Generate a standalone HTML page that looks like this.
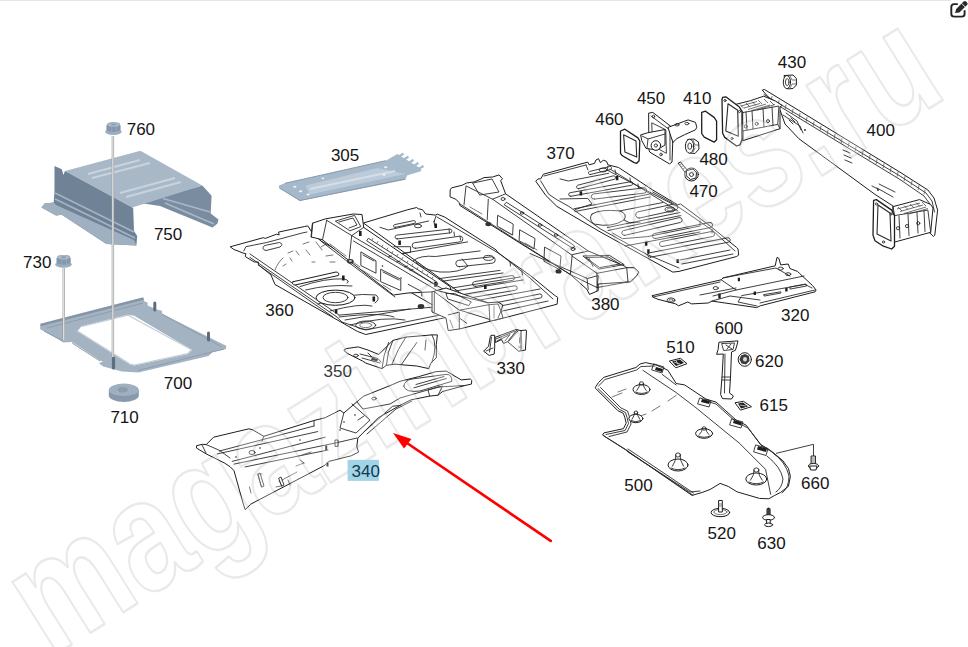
<!DOCTYPE html>
<html><head><meta charset="utf-8"><style>
html,body{margin:0;padding:0;background:#fff;width:968px;height:647px;overflow:hidden}
svg{position:absolute;left:0;top:0;display:block}
.lb text{font-family:"Liberation Sans",sans-serif;font-size:17px;fill:#151515}
.lb text.lt{fill:#3a3a3a}
.lb text.hl{fill:#0d3b50}
.wm{font-family:"Liberation Sans",sans-serif;font-weight:bold;font-size:160px;fill:rgba(255,255,255,0.25);stroke:rgba(0,0,0,0.085);stroke-width:2.6;stroke-linejoin:round}
.ln{fill:#fff;stroke:#1e1e1e;stroke-width:1;stroke-linejoin:round;stroke-linecap:round}
.l2{fill:none;stroke:#2a2a2a;stroke-width:0.9;stroke-linecap:round;stroke-linejoin:round}
.l3{fill:none;stroke:#555;stroke-width:0.8;stroke-linecap:round;stroke-linejoin:round}
.bk{fill:#1e1e1e;stroke:none}
.lnb{fill:#fff;stroke:#1e1e1e;stroke-width:1.3;stroke-linejoin:round}
.l2b{fill:none;stroke:#2a2a2a;stroke-width:1.1;stroke-linejoin:round}
</style></head><body>
<svg width="968" height="647" viewBox="0 0 968 647">
<rect x="0" y="0" width="951" height="1" fill="#e6e6e6"/>
<g id="parts">
<g id="p750">
<polygon points="140,203 202.3,185.6 211.6,195.8 210.7,213.4 218.5,219.5 217.5,223.5 212.5,227.4 160,206" fill="#7a8ca0"/>
<path d="M165,203 L214,224 M163,198.5 L210,212" stroke="#a9b8c7" stroke-width="1.6" fill="none"/>
<polygon points="65,171 140.4,150.7 202.3,185.6 132.3,207.5" fill="#a9b8c7"/>
<path d="M88,174 L140,160 M92,178 L150,163 M120,193 L175,178 M126,197 L181,182" stroke="#c9d3dd" stroke-width="2.2" fill="none"/>
<polygon points="54.5,166.1 61.8,169.3 63.4,175 65,171 132.3,207.5 133.2,208.3 134,231 137.2,235.9 136.4,245.6 106.4,244 61.8,214.8 56,215.6 41.5,207.5 44.7,203.4 53.7,202.6 54.5,190.4" fill="#6f8296"/>
<polygon points="41.5,207.5 44.7,203.4 53.7,202.6 56,205 134,240 136.4,245.6 106.4,244 61.8,214.8 56,215.6" fill="#9fb0c1"/>
<path d="M55,193 L134,232 M55,199 L135,238" stroke="#a3b3c3" stroke-width="1.8" fill="none"/>
<path d="M56,196 L134,235" stroke="#6a7d92" stroke-width="1.2" fill="none"/>
</g>
<g id="p305">
<polygon points="279,185.5 284.9,183.3 385.7,160.7 397.3,154 420,168 421.5,171 407,175.5 405.5,179.7 303,200.3 299.8,201 279,188" fill="#a6b9cb"/>
<polygon points="305.5,185.5 377.4,168.1 405.5,173.9 309.7,194.5" fill="#bccbd9"/>
<path d="M310,189 L395,171" stroke="#d5dee8" stroke-width="2" fill="none"/>
<path d="M398.0,157.0 l4.5,-2.8 M403.0,160.1 l4.5,-2.8 M408.0,163.2 l4.5,-2.8 M413.0,166.4 l4.5,-2.8 M418.0,169.5 l4.5,-2.8" stroke="#a6b9cb" stroke-width="2.3" stroke-linecap="square" fill="none"/>
<path d="M279.5,188 L300,200.5 L405,179 M284.9,183.3 L385.7,160.7" stroke="#8699ad" stroke-width="1" fill="none"/>
<ellipse cx="294.8" cy="186.8" rx="1.6" ry="1" fill="#eef3f7"/><ellipse cx="300.6" cy="191.2" rx="1.6" ry="1" fill="#eef3f7"/><ellipse cx="308" cy="194.5" rx="1.6" ry="1" fill="#eef3f7"/><ellipse cx="385.7" cy="167.3" rx="1.6" ry="1" fill="#eef3f7"/><ellipse cx="384" cy="174.7" rx="1.6" ry="1" fill="#eef3f7"/><ellipse cx="322.9" cy="178.3" rx="1.4" ry="0.9" fill="#eef3f7"/>
</g>
<g id="p700">
<path fill-rule="evenodd" fill="#a4b3c2" d="M40.2,325.1 L143.5,298.3 L144.5,301.4 L147.6,302.4 L147.6,305.5 L156.9,309.6 L162,310.7 L162,313.8 L224,344.8 L226.1,345.4 L226.1,348.9 L212.7,352 L208.5,356.1 L138.3,372.6 L121.8,371.6 L103.2,366.4 L99,363.3 L103.2,361.3 L101,361 L72,342 L63.4,342.6 L57,338.5 L40.2,329.3 Z M77.4,331.3 L81.5,326.2 L128,314.8 L134.2,315.8 L192,349.9 L187.9,354 L134.2,365.4 L130,364.4 Z"/>
<path d="M40.5,325 L143.5,298.5" stroke="#8595a7" stroke-width="2.5" fill="none"/>
<path d="M44,331 L63,341 M72,343 L100,361 M47,328 L143,303 M162,314 L222,347 M224,349 L138,370.5" stroke="#8e9eaf" stroke-width="1" fill="none"/><path d="M82,326.5 L128,315.2 L191.5,349.8 L187.6,353.6 L134.2,365 L130,364 L77.8,331.3" stroke="#c3ced9" stroke-width="1.2" fill="none"/>
<path d="M154.8,310 V303" stroke="#5d6d7e" stroke-width="3" stroke-linecap="round"/>
<path d="M208.5,340 V333" stroke="#5d6d7e" stroke-width="3" stroke-linecap="round"/>
<path d="M113.5,368 V358" stroke="#5d6d7e" stroke-width="3.2" stroke-linecap="round"/>
</g>
<g id="p710">
<path d="M108.8,390 V395.5 A15,6.4 0 0 0 138.8,395.5 V390 Z" fill="#8799ab"/>
<ellipse cx="123.8" cy="389.8" rx="15" ry="6.2" fill="#9fafbf"/>
<ellipse cx="122.8" cy="389.8" rx="5" ry="2.8" fill="#8b9cae"/>
</g>
<g id="rods">
<path d="M112.9,136 V357" stroke="#9a9a9a" stroke-width="2.4"/>
<path d="M112.9,136 V357" stroke="#f6f8fa" stroke-width="1.0"/>
<path d="M63.8,268 V340" stroke="#9a9a9a" stroke-width="2.4"/>
<path d="M63.8,268 V340" stroke="#f6f8fa" stroke-width="1.0"/>
</g>
<g id="nuts">
<ellipse cx="63.5" cy="264.5" rx="8.3" ry="3.2" fill="#9cadbe"/>
<path d="M56.5,258.5 L58,255.8 L61.5,255 L66,255 L69.5,255.8 L70.7,258.5 L70.7,263 Q63.5,266.5 56.5,263 Z" fill="#8597ab"/>
<path d="M62,258 L62,264.5 M66.5,258 L66.5,264.5" stroke="#9aabbc" stroke-width="0.8"/>
<ellipse cx="63.6" cy="257.3" rx="6.3" ry="2.2" fill="#aab9c8"/>
<ellipse cx="63.6" cy="257.3" rx="2.6" ry="1" fill="#8d9eb0"/>
<g transform="translate(49.9,-132.7)"><ellipse cx="63.5" cy="264.5" rx="8.3" ry="3.2" fill="#9cadbe"/>
<path d="M56.5,258.5 L58,255.8 L61.5,255 L66,255 L69.5,255.8 L70.7,258.5 L70.7,263 Q63.5,266.5 56.5,263 Z" fill="#8597ab"/>
<path d="M62,258 L62,264.5 M66.5,258 L66.5,264.5" stroke="#9aabbc" stroke-width="0.8"/>
<ellipse cx="63.6" cy="257.3" rx="6.3" ry="2.2" fill="#aab9c8"/>
<ellipse cx="63.6" cy="257.3" rx="2.6" ry="1" fill="#8d9eb0"/></g>
</g>

<g id="p360">
<!-- left floor pan -->
<path class="ln" d="M230.6,246.7 L263.2,237.7 L265.3,238.4 L276.5,234.2 L279.2,234.9 L278.5,232.1 L304.3,226.6 L307.8,225.9 L313,234 L321,241 L445,312 L448.3,317 L365.7,334.5 L357.4,331.4 L275,284.5 L270.9,274.8 L258.4,264.8 L258.4,262 L254.2,262 L245.2,256.5 L245.9,253.7 L243,253 L234,249.5 Z"/>
<path class="l2" d="M250,254 L339,315.1 M250,257.4 L336.2,316.5 M258.3,265 L333,317 M243.8,250.9 L245.9,246.7 L266.7,242.5 L302.9,232.8 L307,232 M336.2,316.5 L342,322 L365.7,330 L445,314 M339,315.1 L447,306"/>
<path class="l2" d="M264,246 Q261,249.5 266,250.5 L280,247 Q284,244 279.5,242.5 L267,245 Z"/>
<path class="ln" d="M293.1,281.7 L336,272 Q340,272.5 338.3,275.5 L295,285 Q291,284.5 293.1,281.7 Z"/>
<path class="l2" d="M300,286.6 Q325,278 344,278.9 Q351,281 347,283 M305.6,290 Q330,284 352,286 M318,304 Q350,292 376,295 Q381,299 375,303 M330,311 Q360,303 372,306 M339,317 Q380,312 394,317 M345,320 L410,309 M350,325 Q385,316 405,320"/>
<ellipse class="ln" cx="335.5" cy="297.7" rx="19.5" ry="7.6"/>
<ellipse class="l2" cx="335.5" cy="297.5" rx="12.5" ry="5.2"/>
<ellipse class="l2" cx="365.7" cy="325.2" rx="10" ry="4.2"/>
<ellipse class="l3" cx="365.7" cy="325.2" rx="6" ry="2.4"/>
<path class="l3" d="M288,253 l5,-2 M296,251 l3,4 M303,244 l6,-2 M306,250 l4,5 M316,242 l6,8 M321,247 l5,-3 M326,256 l7,-1 M330,262 l5,0 M275,270 q3,-8 8,-12 M283,266 l3,-2 M312,262 l3,0 M290,258 l2,3"/>
<path class="bk" d="M342,275.5 h2.6 v5 h-2.6 Z M372.5,296.5 h2.6 v5 h-2.6 Z M335,309.5 h2.4 v4 h-2.4 Z"/>
<!-- right floor pan -->
<path class="ln" d="M363.8,222.9 L407.8,209.7 L416.7,207.5 L418.1,208.7 L422.5,209.7 L425.7,214 L435.4,215.1 L437.2,214.1 L444.6,217 L496,249.8 L498.2,253 L530.6,275.7 L554.4,295.2 L557.7,297.4 L557.1,304.2 L494.4,320.4 L470,300 Z"/>
<path class="l2" d="M437,217 L500,254 L530,278 L553,299 M436,216 L434,222 M380,227.3 L388.3,230 L428.7,221 M393.9,255 L467.6,241.9 M393.9,246.7 L410.6,246.7 L410.6,252.3 L395.3,254.4 M413.4,260.6 Q420,255 435.6,256.5 L480.1,250.9 M438.4,278.7 L500,270.4 M440,281.5 L503,273 M452,288 L520,277 M455,291 L523,280 M480,300 L540,289 M498,312 L548,301 M420,213 l1,4 M434,221 l0.5,4 M449,229 l0.5,4 M454,232 l0.5,4 M460,236 l0.5,4 M510,262 l0.5,4 M522,271 l0.5,4"/>
<path class="l2" d="M397.2,238.9 L450.2,232.9 A1.9,1.9 0 0 0 449.8,229.1 L396.8,235.1 A1.9,1.9 0 0 0 397.2,238.9 Z"/>
<path class="l2" d="M415.4,248.3 L460.4,241.8 A2.8,2.8 0 0 0 459.6,236.2 L414.6,242.7 A2.8,2.8 0 0 0 415.4,248.3 Z"/>
<path class="l2" d="M459.3,266.7 L492.3,263.2 A3.2,3.2 0 0 0 491.7,256.8 L458.7,260.3 A3.2,3.2 0 0 0 459.3,266.7 Z"/>
<path class="l2" d="M475.4,286.4 L512.4,280.4 A2.4,2.4 0 0 0 511.6,275.6 L474.6,281.6 A2.4,2.4 0 0 0 475.4,286.4 Z"/>
<path class="l2" d="M462.4,299.2 L515.4,290.2 A2.2,2.2 0 0 0 514.6,285.8 L461.6,294.8 A2.2,2.2 0 0 0 462.4,299.2 Z"/>
<path class="l2" d="M490.4,308.0 L540.4,298.0 A2.0,2.0 0 0 0 539.6,294.0 L489.6,304.0 A2.0,2.0 0 0 0 490.4,308.0 Z"/>
<path class="l2" d="M395.3,227.4 L414.3,223.4 A1.4,1.4 0 0 0 413.7,220.6 L394.7,224.6 A1.4,1.4 0 0 0 395.3,227.4 Z"/>
<path class="l2" d="M416,262 Q423,270 440,272 Q460,273 468,266 L462,259"/>
<ellipse class="l2" cx="488.5" cy="257.9" rx="5" ry="2.5"/><ellipse class="l2" cx="418" cy="226" rx="3.5" ry="1.8"/>
<path class="bk" d="M434.4,223.5 h2.6 v4.5 h-2.6 Z M398.3,240.5 h2.6 v4.5 h-2.6 Z M484,285 h2.6 v4 h-2.6 Z M435,286.5 h2.6 v4 h-2.6 Z"/>
<!-- middle cross member -->
<path class="ln" d="M312.8,223.1 L325.3,218.9 L353.1,214 L362,214.5 L363.7,227.4 L450.2,286.7 L451,291 L408,293 L393.4,295 L349,260.6 L322.5,239.8 L311.4,237 Z"/>
<path class="l2" d="M326.7,220.3 L351.7,235.6 L446.5,291.2 M351.7,235.6 L349,260.6 M326.7,220.3 L322.5,239.8 M312.8,223.1 L311.4,237 M335.7,221 L354.5,215.4 L360.8,226.6 L350.3,230.7 Z M339,222 L353,218 L357,225 L349,228 M363.7,227.4 L351.7,235.6"/>
<path class="l2" d="M368.7,238.5 L436.6,281.8 L438,284 L436,285.5 L367,241 Z M321,241.2 L350,263.5 L395,297 M353.5,241 L443,294"/>
<path class="l3" d="M372,240 l0.8,-1.5 M377,243 l0.8,-1.5 M382,246.5 l0.8,-1.5 M387,249.5 l0.8,-1.5 M392,253 l0.8,-1.5 M397,256 l0.8,-1.5 M402,259 l0.8,-1.5 M407,262.5 l0.8,-1.5 M412,265.5 l0.8,-1.5 M417,269 l0.8,-1.5 M422,272 l0.8,-1.5 M427,275.5 l0.8,-1.5 M432,278.5 l0.8,-1.5"/>
<path class="l2" d="M361.2,252.1 L376,260.8 L376,273.2 L361.2,265.7 Z M381,269.4 L400.8,279.3 L400.8,290.5 L381,281.8 Z M408.2,284.3 L421.8,291.7 L421.8,296 M363,255 L374,261 M383,272 L399,280"/>
<path class="l3" d="M330,244 l8,6 M338,250 l8,6 M353,262 l7,5 M362,270 l8,5 M371,276 l8,5 M383,285 l8,5"/>
<ellipse cx="350.3" cy="261.3" rx="3.3" ry="2.4" fill="#333"/><ellipse cx="350.3" cy="261" rx="1.5" ry="1" fill="#ccc"/>
<ellipse cx="421" cy="306.5" rx="3.3" ry="2.4" fill="#333"/>
<circle cx="382.5" cy="266" r="0.8" fill="#222"/><circle cx="401" cy="278" r="0.8" fill="#222"/>
<path class="bk" d="M359,231 h2.6 v5 h-2.6 Z M434.1,281.8 h2.6 v5 h-2.6 Z"/>
<path class="l2" d="M388.5,257 l3,-1 M397,262 l3,-1 M404.5,267 l3,-1 M410,270.5 l3,-1"/>
<!-- front cross member -->
<path class="ln" d="M432.4,291.7 L446,288 L488,302.8 L498,302 L502.8,305 L501,311 L503,318 L489.9,321.3 L460.2,328.8 L448.2,330.6 L446,318 L432.4,312.1 Z"/>
<path class="l2" d="M434.3,291.7 L459.3,310.2 L489,304.7 L489.9,321.3 M446.3,293.5 L454.7,293.5 L471.3,301.9 L468.6,305.6 L448.2,299.1 Z M448.2,314.9 L459.3,312.1 L459.3,328.8 M460.2,310.2 L489.9,319.5 M460.2,318.6 L466.7,323.2 M434.3,291.7 L434.3,312.1 M438,290.8 L488,302.8 M489,304.7 L498,304 L501,311 L498,318"/>
<path class="l3" d="M450,320 l3,8 M494,306 l0,12"/>
</g>

<g id="p380">
<path class="ln" d="M450.4,189.5 L451.5,187.9 L462.3,185.2 L466.6,183 L474.2,181.9 L481.8,178.7 L484,177.6 L492.6,177 L499.1,174.9 L502.4,178.7 L500.7,180.8 L505.6,193.8 L588.3,251 L624.2,265.9 L626.7,267.7 L634.1,267.7 L639,272.1 L636.6,275.8 L630.4,282 L628,282 L598.2,284 L598.2,290.7 L589.5,294.4 L587,289.4 L570.3,274.5 L460.2,205.7 L459,202.5 L455.8,199.2 L450.4,197 Z"/>
<path class="l2" d="M466.6,186.2 L492.6,199.2 L572.1,255.3 M492.6,199.2 L505.6,193.8 M488.3,199.2 L487.2,219.8 M466,186 L464,205 M460,204 L570.3,274.5 M570.3,274.5 L597,287.6 M572.1,256 L570.3,274.5 M572.1,254.7 L588.3,251 M597,273.3 L597,287.6 M597,273.3 L626.7,267.7 M588.3,278.3 L597,275.8 M572,256 L597,273.3"/>
<path class="l2" d="M473,183 L492,179 L499,192 L480,195 Z M498,215.5 L513.2,224.1 L512.6,235 L497.5,226.3 Z M520,230 L535,238.5 L534,249 L519.5,241 Z M544.9,247.3 L561,256 L559.8,269.6 L544.3,261.5 Z"/>

<path class="l2" d="M583.3,256 L609.3,255.3 L624.2,264.6 L599.4,269 Z M586,257.5 L608.5,257 L620,264 L600,267.5 Z M589,258 L593,266.5 M626.7,267.7 L628,282 M597,287.6 L628,282 M587,278.3 L588.3,289.4 M598.2,275.8 L597,290.7 M530,253.5 L587,278.3"/>
<path class="l2" d="M506.7,202.5 L572,244 L574.5,246 L573,248.5 L504.5,205 Z"/><ellipse class="l2" cx="522" cy="213" rx="1.8" ry="1.2"/><ellipse class="l2" cx="540" cy="225" rx="1.8" ry="1.2"/><ellipse class="l2" cx="556" cy="235" rx="1.8" ry="1.2"/>
<path class="l3" d="M470,207 l12,7 M500,228 l12,7 M525,243 l12,7"/>
<ellipse cx="488.3" cy="224.1" rx="3" ry="2.2" fill="#333"/><ellipse cx="558.5" cy="271.4" rx="3" ry="2.2" fill="#333"/>
<ellipse class="l2" cx="503" cy="199" rx="2" ry="1.5"/><ellipse class="l2" cx="573" cy="249" rx="2" ry="1.5"/>
</g>

<g id="p370">
<path class="ln" d="M536,180.9 L538,178.9 L540.7,178.9 L543.4,174.2 L587.7,162.1 L589.1,164.8 L594.5,163.4 L595.8,160.1 L598.5,158.7 L600.5,162.8 L603.2,160.1 L606.6,161.4 L607.9,164.8 L618.6,167.5 L652.7,190 L677.5,204.7 L680.6,204 L711.6,227.2 L736.4,247.3 L738,248.9 L738.7,255.1 L736.4,256.6 L679,271.4 L672.8,272.1 L600,231.8 L556.9,206.4 L546.1,195.7 Z"/>
<path class="l2" d="M540.7,180.9 L548.8,194.3 L556.9,199.7 L568.9,206.4 L600,228.7 L646,254 L679,268 M608,166 L607,170 L680,208 L712,230 L735,251 M610,169 L678,211 M652.7,192 L677.5,206 M544,176 L586,165 M586,165 L588,170 M560,178.9 L568.3,181 L608.7,173.3 M615,170 l1,4 M630,178 l0.5,4 M638,184 l0.5,4 M700,221 l0,4 M712,229 l0,4"/>
<path class="l2" d="M560,199 L587.8,198.4 L592,204 L575.3,209.5 M573.9,208.8 L649,194.2 M575,211.5 L650,197 M607.3,227.6 L680,212.5 M608,230.5 L681,215.5 M619.8,210.9 L662.9,202.5 M612.8,233.2 L622.6,238.7 L647.6,236.6 L700,226 M625,246 L700,232 M680,260 L730,250 M682,264 L733,254"/>
<path class="l2" d="M592,214 Q600,209 619.8,210.9 Q628,214 624,220 Q612,228 594,224 Q588,219 592,214 Z M624,220 L630,223 L640,222"/>
<path class="l2" d="M578.5,188.7 L614.5,179.2 A1.8,1.8 0 0 0 613.5,175.8 L577.5,185.3 A1.8,1.8 0 0 0 578.5,188.7 Z"/>
<path class="l2" d="M570.8,196.3 L631.3,185.3 A1.8,1.8 0 0 0 630.7,181.7 L570.2,192.7 A1.8,1.8 0 0 0 570.8,196.3 Z"/>
<path class="l2" d="M594.3,199.1 L644.3,193.1 A2.6,2.6 0 0 0 643.7,187.9 L593.7,193.9 A2.6,2.6 0 0 0 594.3,199.1 Z"/>
<path class="l2" d="M639.2,218.1 L675.7,210.1 A3.2,3.2 0 0 0 674.3,203.9 L637.8,211.9 A3.2,3.2 0 0 0 639.2,218.1 Z"/>
<path class="l2" d="M624.6,235.4 L680.6,222.4 A2.5,2.5 0 0 0 679.4,217.6 L623.4,230.6 A2.5,2.5 0 0 0 624.6,235.4 Z"/>
<path class="l2" d="M655.5,238.5 L710.5,227.5 A2.5,2.5 0 0 0 709.5,222.5 L654.5,233.5 A2.5,2.5 0 0 0 655.5,238.5 Z"/>
<path class="l2" d="M662.5,246.5 L712.5,236.5 A2.5,2.5 0 0 0 711.5,231.5 L661.5,241.5 A2.5,2.5 0 0 0 662.5,246.5 Z"/>
<path class="l2" d="M650.4,257.2 L728.4,242.2 A2.2,2.2 0 0 0 727.6,237.8 L649.6,252.8 A2.2,2.2 0 0 0 650.4,257.2 Z"/>
<path class="l2" d="M590.4,174.5 L610.4,169.5 A1.5,1.5 0 0 0 609.6,166.5 L589.6,171.5 A1.5,1.5 0 0 0 590.4,174.5 Z"/>
<ellipse class="l2" cx="670" cy="209.5" rx="5" ry="2.5"/><ellipse class="l3" cx="670" cy="209.5" rx="3" ry="1.5"/>
<ellipse class="l2" cx="603" cy="170" rx="4" ry="2"/>
<path class="bk" d="M615.8,176 h2.6 v4.2 h-2.6 Z M579.6,191.3 h2.6 v4.2 h-2.6 Z M645,242 h2.4 v3.8 h-2.4 Z M647.2,249.2 h2.4 v4.2 h-2.4 Z M676.5,259 h2.4 v4 h-2.4 Z"/>
</g>
<g id="p320">
<path class="ln" d="M652.4,295.6 L721.2,279.8 L723.1,277.9 L775.2,265.8 L777,257.4 L778.9,258.4 L780.7,264.9 L788.2,264 L790,268.6 L797.5,271.4 L799.3,273.2 L812.3,285.3 L816.1,290 L815.1,291.8 L760.3,305.8 L756.6,307.6 L712,301.1 L708.2,303 L691.5,303.9 L687.8,302 L678.5,305.8 L675.7,303.9 L658,299.3 L653.4,297.4 Z"/>
<path class="l2" d="M653,297 L720,282 M721.2,279.8 L736.1,290 L804,276 M736.1,290 L713,296 M723.1,277.9 L776,268 L790,276 M741.7,295.6 L805,284.4 L812,288 M741,297 L738,302 L757,306 M712,301 L730,296 L760,300 M700,295 L736,288 M760,303 L815,290"/>
<path class="l2" d="M764,294.6 L780.7,291.8 L781,293 L764.5,296 Z M790,287 L806,284 L806.5,286 L790.5,289 Z"/>
<ellipse class="l2" cx="671" cy="300.2" rx="4" ry="2.3"/><ellipse class="l3" cx="671" cy="300.2" rx="2" ry="1.2"/>
<ellipse class="l2" cx="715.7" cy="288.1" rx="2.6" ry="1.5"/><ellipse class="l2" cx="780.7" cy="268.6" rx="2.6" ry="1.5"/><ellipse class="l2" cx="788.2" cy="274.2" rx="2.6" ry="1.5"/>
<path class="bk" d="M718.3,293.5 h2.4 v5 h-2.4 Z M737.8,277.8 h2.2 v3.5 h-2.2 Z M753.6,291.6 h2.4 v3.5 h-2.4 Z M785.2,288 h2.4 v3.5 h-2.4 Z"/>
</g>

<g id="p400">
<!-- beam -->
<path class="ln" d="M762.6,90 L764.5,89.5 L900,172.2 L927.9,190 L934,198 L937.6,210.1 L934.8,235.1 L933.4,236.5 L930,233 L893,206 L875,194.4 L799,138.8 L785,124 L780.4,111 Z"/>
<path class="l2" d="M764,94.5 L900,176 L926,193 L932,201 L934.5,212 M766,98 L900,179.5 L924,196 L930,204 L931.5,214"/>
<path class="l3" d="M772,96.5 l-0.8,4 M779,100.8 l-0.8,4 M786,105 l-0.8,4 M793,109.2 l-0.8,4 M800,113.4 l-0.8,4 M807,117.6 l-0.8,4 M814,121.8 l-0.8,4 M821,126 l-0.8,4 M828,130.2 l-0.8,4 M835,134.4 l-0.8,4 M842,138.6 l-0.8,4 M849,142.8 l-0.8,4 M856,147 l-0.8,4 M863,151.2 l-0.8,4 M870,155.4 l-0.8,4 M877,159.6 l-0.8,4 M884,163.8 l-0.8,4 M891,168 l-0.8,4 M898,172.2 l-0.8,4 M905,176.6 l-0.8,4 M912,181 l-0.8,4 M919,185.5 l-0.8,4 M925,190 l-1,4"/>
<path class="l2" d="M783,115 L800,126 L803,133 M786,113 L797,121 L801,130 M789,120 l4,4 M791,118 l4,4 M843,150 l7,3 M844,155 l7,3 M845,160 l7,3 M877,188 L893,197 M879,184 L895,192 M872,186 l6,3"/>
<circle cx="805" cy="130" r="0.9" fill="#222"/><circle cx="878" cy="190" r="0.9" fill="#222"/>
<!-- left crash box -->
<path class="ln" d="M735.6,104.4 L750.7,100.6 L763.7,96.2 L775.6,101.1 L782.1,105.4 L780,107 L780,128.7 L743.1,140.6 Z"/>
<path class="l2" d="M743.1,112.5 L778.9,106 L777.8,124.4 L743.1,130.9 Z M735.6,104.4 L743.1,112.5 M743.1,130.9 L743.1,140.6 M777.8,124.4 L780,128.7 M752,110.5 L753,129 M763,108.5 L764,127 M772,107 L773,125.5 M746,112 L747,130"/>
<path d="M741,106 L757,101.5 M744,108 L760,103.5 M748,109.5 L766,104 M752,110.5 L770,105 M757,110 L775,104.5 M740,104.5 l4,4 M746,103 l4,4 M752,101.5 l4,4 M758,100 l4,4 M764,99 l4,4 M770,101 l4,4" stroke="#333" stroke-width="0.7" fill="none"/>
<circle class="l2" cx="745.8" cy="126.5" r="1.5"/><circle class="l2" cx="756.7" cy="123.8" r="1.5"/><circle class="l2" cx="768" cy="121.1" r="1.5"/>
<path class="lnb" d="M722.6,97.3 L725.8,96.8 L739.4,107.1 L742,111.4 L742,139.5 L739.9,144.9 L736.6,146 L724.7,137.4 L722.6,133 L722,99.5 Z"/>
<path class="l2b" d="M728,103.8 L737.7,110.3 L738.3,136.3 L725.8,130.9 Z"/>
<circle class="l2" cx="725" cy="100.5" r="1.1"/><circle class="l2" cx="739.5" cy="111.5" r="1.1"/><circle class="l2" cx="732" cy="138.5" r="1.1"/>
<!-- right crash box -->
<path class="ln" d="M893.1,206.6 L919.5,199.6 L930.7,204.5 L933,208 L930.7,232.3 L894.5,242.1 Z"/>
<path class="l2" d="M894.5,215.6 L927.9,210.1 L930.7,232.3 M894.5,215.6 L894.5,242.1 M893.1,206.6 L894.5,215.6 M899,216 L900,238 M908,214 L909,235.5 M917,212.5 L918,233 M924,211 L925,231.5"/>
<path d="M897,209 L920,203 M900,211.5 L923,205 M904,213.5 L926,207 M909,214 L928,208.5 M898,207 l4,4 M904,205.5 l4,4 M910,204 l4,4 M916,202.5 l4,4 M922,202 l4,4" stroke="#333" stroke-width="0.7" fill="none"/>
<circle class="l2" cx="898" cy="228.2" r="1.6"/><circle class="l2" cx="907" cy="226.1" r="1.6"/><circle class="l2" cx="918.2" cy="223.3" r="1.6"/>
<path class="lnb" d="M873.6,200.3 L876.4,199.6 L891.7,210.1 L894.5,215.6 L894.5,246.2 L891.7,249 L883.4,246.2 L875,240.7 L873,235.1 Z"/>
<path class="l2b" d="M878,205 L890,213 L891,241 L877,234 Z"/>
<circle class="l2" cx="876.5" cy="204" r="1.1"/><circle class="l2" cx="891" cy="214" r="1.1"/><circle class="l2" cx="883.5" cy="242" r="1.1"/>
</g>
<g id="p430">
<path class="ln" d="M784.4,75.5 L793,75 L796.4,78.5 L796.4,85 L793,88.5 L788,88.9 Z"/>
<ellipse class="ln" cx="786.9" cy="82.1" rx="3.6" ry="6.6"/>
<ellipse class="l2" cx="787.2" cy="82.1" rx="1.8" ry="3.5"/>
<path class="l3" d="M790,76 L792,80 L796,80 M790,88 L792,84 L796,84"/>
</g>
<g id="p460">
<path class="lnb" d="M620.5,131 L624.9,129.2 L637.9,137.9 L639.8,141 L639.1,160.8 L636.7,163.3 L634.2,162.6 L622.4,155.8 L620.5,153.3 Z"/>
<path class="l2b" d="M623.6,134.8 L636,141 L636.7,157.1 L624.9,152.1 Z"/>
</g>
<g id="p450">
<path class="ln" d="M649,113.1 L652.8,112.4 L672,127.3 L673.2,129.8 L672,162 L669.5,163.9 L649.7,152.1 L649,150 Z"/>
<path class="l2" d="M652.1,123 L665.8,129.8 L666.4,153.3 L652.8,145.9 Z M651,116 L670,130 L670,160"/>
<path class="ln" d="M668.3,127.3 L688.1,119.9 L695.5,122.4 L696.8,127.3 L695.5,129.8 L684.4,134.8 L677,138.5 L673.2,142.2 Z"/>
<ellipse class="l2" cx="677" cy="124.8" rx="2" ry="1.2"/><ellipse class="l2" cx="686.9" cy="123.6" rx="2" ry="1.2"/>
<path class="ln" d="M641,134.8 L647.2,132.9 L665,129.5 L665,145 L657,150 L646,148.4 L642,141 Z"/>
<path class="l2" d="M642,136 L648,139 L665,134 M648,139 L647,148"/>
<circle class="ln" cx="655.9" cy="145.5" r="4.8"/><circle class="l2" cx="655.9" cy="145.5" r="1.6"/>
<ellipse class="l2" cx="653.5" cy="116.5" rx="1.2" ry="1.4"/><ellipse class="l2" cx="661" cy="154.5" rx="1.2" ry="1.4"/>
</g>
<g id="p410">
<path class="lnb" d="M701.7,112.4 L705.5,111.2 L714.1,117.4 L716.6,121.1 L716.6,139.7 L714.1,142.2 L704.2,137.2 L701.7,133.5 Z"/>
</g>
<g id="p480">
<path class="ln" d="M688,139.5 L694,139 L698.5,142 L699,149 L695,153.5 L690,153 Z"/>
<ellipse class="ln" cx="689.6" cy="146.2" rx="4.2" ry="7"/>
<ellipse class="l2" cx="689.8" cy="146.2" rx="2" ry="3.2"/>
<path class="l3" d="M693,140 L695,145 L699,145 M693,152 L695,148"/>
</g>
<g id="p470">
<path class="ln" d="M678.5,163 L680.5,162 L688,171 L686,173 Z"/>
<path class="l3" d="M680,165 l2,-1.5 M681.5,167 l2,-1.5 M683,169 l2,-1.5"/>
<ellipse class="ln" cx="691.5" cy="174.5" rx="6.8" ry="6.5"/>
<path class="ln" d="M687,170.5 L693,169 L696.5,172.5 L696,178 L690.5,179.5 L686.5,176 Z"/>
<circle class="l2" cx="691.5" cy="174.5" r="2"/>
</g>

<g id="p350">
<path class="ln" d="M344.1,350.1 L346.3,348.6 L358.2,346.9 L368,350.1 L378.8,354.5 L387.5,345.8 L392.9,340.4 L405.9,337.1 L432,334.9 L437.4,334.9 L436.3,344.7 L436.3,357.7 L430.9,363.1 L428.7,368.6 L416.8,366 L395,364.2 L386.4,365.3 L382,368.6 L365.8,363.1 L362.5,361 L347.4,353.4 Z"/>
<path class="l2" d="M388.6,342.5 Q383,355 382,368.6 M392.9,340.4 Q387,352 386.4,365.3 M416.8,342.5 Q410,352 401.6,364.2 M405.9,337.1 Q398,348 392,364 M426,340 L425,350 M432,334.9 Q438,345 432,362 M360,354 L378,358.5 L381,362 M362,358 L380,363 M368,353 L372,357"/>
<ellipse class="l2" cx="356" cy="355.6" rx="2.3" ry="1.4"/>
<path class="bk" d="M372,357.5 l6,1.8 l-0.8,2.2 l-6,-1.8 Z"/>
</g>
<g id="p330">
<path class="ln" d="M515.9,329.5 L521,330.6 L526,330 L526.5,331.1 L525.4,350.1 L518.7,351.2 L507.6,341.7 Z"/>
<path class="ln" d="M495.3,337.3 L515.9,329.5 L517,330 L507.6,341.7 L503.7,343.4 L501.4,339.5 L495.8,342.3 Z"/>
<path class="ln" d="M491.4,335.3 L494.7,335.3 L494.7,347.3 L494.2,354 L489.2,355.4 L483.6,351.2 L488.6,346.2 L490.3,336.7 Z"/>
<path class="l2" d="M496,339 L515,331 M497,341 L510,334.5 L505,341 M507.6,341.7 L517,330 M509,341 L518,331 M521,331 L521,350 M491.5,337 L489.5,352 M486,351 L493,348"/>
<path class="l3" d="M519.5,338 l0,5 M519,346 l0,2 M521,346 l0,2"/>
</g>
<g id="p340">
<path class="ln" d="M196.9,445.6 L202.4,444.3 L206.2,444.6 L213.6,437.2 L248.9,428.8 L252.6,429.8 L263.8,436.3 L314,420.5 L325.2,417.7 L340,410.2 L343.8,413 L356.8,401.9 L363.6,396.2 L392.5,384.6 L400,381.3 L418.5,376.7 L436.1,371.6 L446.3,371.1 L461.2,379.9 L470.4,379 L471.8,380.4 L471.4,384.1 L464.9,385.5 L442.6,391.5 L438,395.2 L429.7,396.1 L411.1,399.8 L400,405.4 L378,417.9 L363.6,432.3 L357.8,438.1 L356.8,446.5 L358.6,452.1 L351.2,455.8 L328.9,461.4 L325.2,465.1 L250.8,504.1 L245.2,509.7 L243.3,504.1 L234,470.7 L230.3,466.9 L224.8,463.2 L206.2,453.9 L196.9,448.3 Z"/>
<path class="l2" d="M206.2,444.6 L219.2,450.2 L230,458 M219.2,451.1 L314,426 M217.3,453.9 L317.7,431.6 M232.2,461.4 L325.2,437.2 M234,464.1 L336.3,442.8 L357,438 M245.2,466.9 L328,450 M263.8,436.3 L262,441 M314,420.5 L314,426 M202,445 L206,453"/>
<path class="l2" d="M356.8,401.9 L363,409 L390,404 L400,398 L438,387 L464.9,385.5 M363.6,432.3 L392.5,406.3 L400,405.4 M367,434 L396,409 L412,401 M352,404 L370,420 L356,433 L340,428 L343.8,413 M358,420 l6,-4"/>
<path class="l2" d="M403.7,386 Q405,380 412,379 L446,374.4 Q452,374 451.9,381.3 L420,391 Q405,393 403.7,386 Z M413.9,387.8 L446.3,378.5 M416,384.5 L444,376.5"/>
<path class="l2" d="M429.7,396.1 L428,390 L442.6,386 L438,395.2"/>
<path class="l3" d="M249.5,487 l1.5,6 M258,474 l3,12 M260,474 l2,0 M276,487 l5,-1 M279,481 l3,5 M282,480 l15,-8 M296,466 l8,-3 M300,460 l4,3 M288,480 l2,5 M302,455 l9,-3"/>
<path class="l2" d="M258,474 L260,473 L264,486 L262,487 Z M279,478 L281,477 L284,485 L282,486 Z"/>
<ellipse class="l2" cx="252" cy="452.5" rx="3" ry="2"/><ellipse class="l2" cx="374" cy="398.6" rx="2.2" ry="1.4"/>
<path class="bk" d="M325.2,445.5 h2 v4.5 h-2 Z M326.5,462.5 h2 v4 h-2 Z"/>
<path class="l2" d="M335,446 L335,440 L338,440 L338,446 Z"/>
<circle cx="236" cy="457" r="0.8" fill="#222"/><circle cx="300" cy="440" r="0.8" fill="#222"/><circle cx="340" cy="430" r="0.8" fill="#222"/><circle cx="344" cy="422" r="0.8" fill="#222"/><circle cx="355" cy="415" r="0.8" fill="#222"/><circle cx="260" cy="448" r="0.8" fill="#222"/>
</g>
<g id="p500">
<path class="ln" d="M595.6,387 L598.3,382.8 L603.9,377.3 L635.9,367.5 L640,364 L645.6,362.6 L655.4,364.7 L662.3,367.5 L667.9,370.3 L676.2,383.5 L684.6,384.9 L706,399.1 L716.1,402.1 L736.2,420.2 L746.2,425.2 L760.3,444.3 L770.3,450.3 L782.4,460.3 L788.4,468.4 L790.4,476.4 L788.4,486.4 L780.4,492.5 L774.3,495.6 L768.8,498.8 L759.5,498.4 L737.2,491.9 L728.2,486.4 L720.1,483.4 L710.1,489.5 L702,492.5 L692,495.4 L627.6,451 L602.5,435 L603.9,432.9 L623.4,428.7 L626.2,423.1 L624.8,417.6 L623.4,413.4 L617.8,410.6 L595.6,388.4 Z"/>
<path class="l2" d="M598,388.5 L619.5,409.5 L625.5,412.5 L627,417.5 L628.5,423.5 L625,430.5 L606,434.5 M600.5,387.5 L621,408 L627.5,411 L629.5,417 L631,424 L627,432 L609,436.5 M598.5,386 L605,379.5 L636.5,370 L641,366.5 L655,366 M628,452 L690,492 L700,491 M604,436 L628,451"/>
<path class="l3" d="M676.2,395.3 L668,401 M660,406 L652,411 M646,414 L640,416.2 M612,397 l10,-4 M618,392 l8,-3"/>
<path class="l2" d="M642.9,370.3 L676.2,392.6 L694.5,406.6 L739.2,443 L765.6,469.4 L770.6,494.2 M662.3,374.5 L676.2,385 M706,401 L716,404 L736,422 L748,428 L762,446 L772,452 L784,462 M772,452 Q786,462 789,476 Q789,488 782,493 M767,456 Q781,467 783,479 Q782,488 776,492 M627,451 L692.9,495.2 M628,449 L693.5,493"/>
<ellipse class="ln" cx="641.5" cy="389.5" rx="8.5" ry="5"/><path class="l2" d="M636.8,390.5 Q639.8,387.1 639.8,383.5 M646.2,390.5 Q643.2,387.1 643.2,383.5 M635.5,392.0 Q641.5,395.0 647.5,392.0"/><ellipse class="l2" cx="641.5" cy="383.5" rx="2.1" ry="1.8"/>
<ellipse class="ln" cx="635.9" cy="418.5" rx="7" ry="4.2"/><path class="l2" d="M632.0,419.3 Q634.5,416.1 634.5,412.5 M639.8,419.3 Q637.3,416.1 637.3,412.5 M631.0,420.6 Q635.9,423.1 640.8,420.6"/><ellipse class="l2" cx="635.9" cy="412.5" rx="1.8" ry="1.5"/>
<ellipse class="ln" cx="704.1" cy="433.5" rx="8.5" ry="4.8"/><path class="l2" d="M699.4,434.5 Q702.4,431.5 702.4,428.5 M708.8,434.5 Q705.8,431.5 705.8,428.5 M698.1,435.9 Q704.1,438.8 710.1,435.9"/><ellipse class="l2" cx="704.1" cy="428.5" rx="2.1" ry="1.7"/>
<ellipse class="ln" cx="678" cy="465" rx="10" ry="6"/><path class="l2" d="M672.5,466.2 Q676.0,461.0 676.0,455.0 M683.5,466.2 Q680.0,461.0 680.0,455.0 M671.0,468.0 Q678.0,471.6 685.0,468.0"/><ellipse class="l2" cx="678" cy="455" rx="2.5" ry="2.1"/>
<ellipse class="ln" cx="756.3" cy="479" rx="10.5" ry="6"/><path class="l2" d="M750.5,480.2 Q754.2,475.4 754.2,470.0 M762.1,480.2 Q758.4,475.4 758.4,470.0 M748.9,482.0 Q756.3,485.6 763.6,482.0"/><ellipse class="l2" cx="756.3" cy="470" rx="2.6" ry="2.1"/>
<path class="bk" d="M656,367 l7,2 l-1,3 l-7,-2 Z M702,399 l8,2 l-1,3 l-8,-2 Z M734,420 l8,2.5 l-1,3 l-8,-2.5 Z M758,446 l9,2.5 l-1,3.5 l-9,-2.5 Z"/>
<path class="l2" d="M654,364 l10,3 l-2,6 l-10,-3 Z M700,398 l11,3 l-2,6 l-11,-3 Z M732,419 l11,3 l-2,6 l-11,-3 Z M756,445 l12,3.5 l-2,7 l-12,-3.5 Z"/>
</g>
<g id="p600">
<path class="ln" d="M719.3,342.2 L738,340.9 L737,345 L735.4,350.3 L731.5,352 L730.5,377 L729.5,393 L733.5,396 L731.5,399 L722.5,398.6 L720.6,394.6 L722,377 L723.3,354 L716.6,354.3 L718,350 Z"/>
<path class="l2" d="M722,343.5 L734.5,343 L733,349.5 L724,350.5 Z M725,354 L724.5,393 M722,377 L730.5,377 M722,380 L730.5,380 M726,345 l6,4 M727,349 l4,-5"/>
</g>
<g id="p620"><ellipse class="ln" cx="744.8" cy="359.5" rx="6.6" ry="6.8"/><path d="M741,355.5 L745,354 L749,356 L749.5,361 L746,364.5 L741.5,363.5 L739.5,359.5 Z" fill="#3c3c3c"/><ellipse cx="745" cy="359.3" rx="2" ry="2.2" fill="#d8d8d8"/></g>
<g id="p510"><path class="ln" d="M669.6,361 L680.4,358.3 L687,363.7 L676.3,367.7 Z"/><path class="bk" d="M672,361.5 L680,359.5 L684,363 L676,366 Z"/><path d="M674,362 l6,2 M676,360.5 l2,4" stroke="#ddd" stroke-width="0.8"/></g>
<g id="p615"><path class="ln" d="M735.4,402.7 L743.5,401.3 L751.5,406.7 L740.8,410 Z"/><path class="bk" d="M738,403.5 L743,402.5 L748,406.5 L741,408.5 Z"/><path d="M740,405 l6,1" stroke="#ddd" stroke-width="0.8"/></g>
<g id="p660">
<path class="l2" d="M776.4,453.3 L813.5,444.3 L813.5,456"/>
<path class="ln" d="M811.5,456 L815.5,456 L815.5,464 L811.5,464 Z"/>
<path class="l3" d="M811.5,458 h4 M811.5,460 h4 M811.5,462 h4"/>
<ellipse class="ln" cx="813.5" cy="466" rx="5" ry="2.5"/>
<path class="ln" d="M810,466 L817,466 L816,470 L811,470 Z"/>
</g>
<g id="p520">
<ellipse class="ln" cx="720.4" cy="512.5" rx="9.3" ry="4.2"/>
<ellipse class="l3" cx="720.4" cy="512" rx="6.5" ry="2.6"/>
<path class="ln" d="M719,500.5 L722.3,500.5 L722.3,512 L719,512 Z"/>
<path class="l3" d="M719,504 h3.3 M719,506 h3.3"/>
<path class="l2" d="M717,516.5 L724,516.5"/>
</g>
<g id="p630">
<path d="M766.5,509 Q768.5,506 770.6,509 L770.6,517 L766.5,517 Z" fill="#222"/>
<path d="M766.5,510 h4 M766.5,512 h4 M766.5,514 h4" stroke="#888" stroke-width="0.6"/>
<ellipse class="ln" cx="768.6" cy="517.5" rx="6" ry="2.8"/>
<path class="ln" d="M767,519.5 L770.2,519.5 L770.2,524 L767,524 Z"/>
<ellipse class="ln" cx="768.6" cy="524.8" rx="4" ry="1.8"/>
</g>

</g>
<g id="wm"><text class="wm" transform="translate(50,658) rotate(-32) scale(0.78,1)">magazinbrakes.ru</text>
</g>
<g class="lb">
<rect x="347.6" y="459.8" width="31.3" height="21.1" fill="#a3d3e6"/>
<text x="126.7" y="134.6">760</text>
<text x="153.9" y="240.4">750</text>
<text x="23.0" y="268.2">730</text>
<text x="163.8" y="389.2">700</text>
<text x="110.4" y="423.0">710</text>
<text x="330.9" y="161.1">305</text>
<text x="265.3" y="316.4">360</text>
<text x="323.5" y="377.3" class="lt">350</text>
<text x="496.5" y="374.1">330</text>
<text x="351.6" y="477.0" class="hl">340</text>
<text x="591.2" y="310.2">380</text>
<text x="546.4" y="158.6">370</text>
<text x="595.2" y="124.6">460</text>
<text x="636.9" y="104.4">450</text>
<text x="683.0" y="103.7">410</text>
<text x="777.8" y="68.2">430</text>
<text x="866.6" y="136.4">400</text>
<text x="699.4" y="165.1">480</text>
<text x="689.4" y="196.9">470</text>
<text x="781.1" y="321.4">320</text>
<text x="714.7" y="334.0">600</text>
<text x="666.3" y="353.4">510</text>
<text x="755.0" y="366.8">620</text>
<text x="759.5" y="411.4">615</text>
<text x="624.3" y="491.2">500</text>
<text x="801.1" y="489.0">660</text>
<text x="707.6" y="538.7">520</text>
<text x="757.3" y="548.7">630</text>
</g>
<g id="arrow"><line x1="550.7" y1="540.9" x2="404" y2="441" stroke="#ff0000" stroke-width="2.7" stroke-linecap="round"/>
<polygon points="393,433 411.5,439 404,448.5" fill="#ff0000"/></g>
<g id="icon">
<path d="M957.8,4.1 H954.3 Q951.3,4.1 951.3,7.1 V13.7 Q951.3,16.6 954.3,16.6 H961.7 Q964.6,16.6 964.6,13.7 V10.3" stroke="#222" stroke-width="1.9" fill="none"/>
<path d="M955,12.9 L956.2,9 L963.6,1.6 Q965,0.4 966.4,1.8 L967,2.4 Q968.2,3.8 967,5 L959.4,12.4 Z" fill="#2a2a2a"/>
<path d="M961.6,3.4 L965.3,7.1" stroke="#fff" stroke-width="0.9"/>
</g>
</svg>
</body></html>
